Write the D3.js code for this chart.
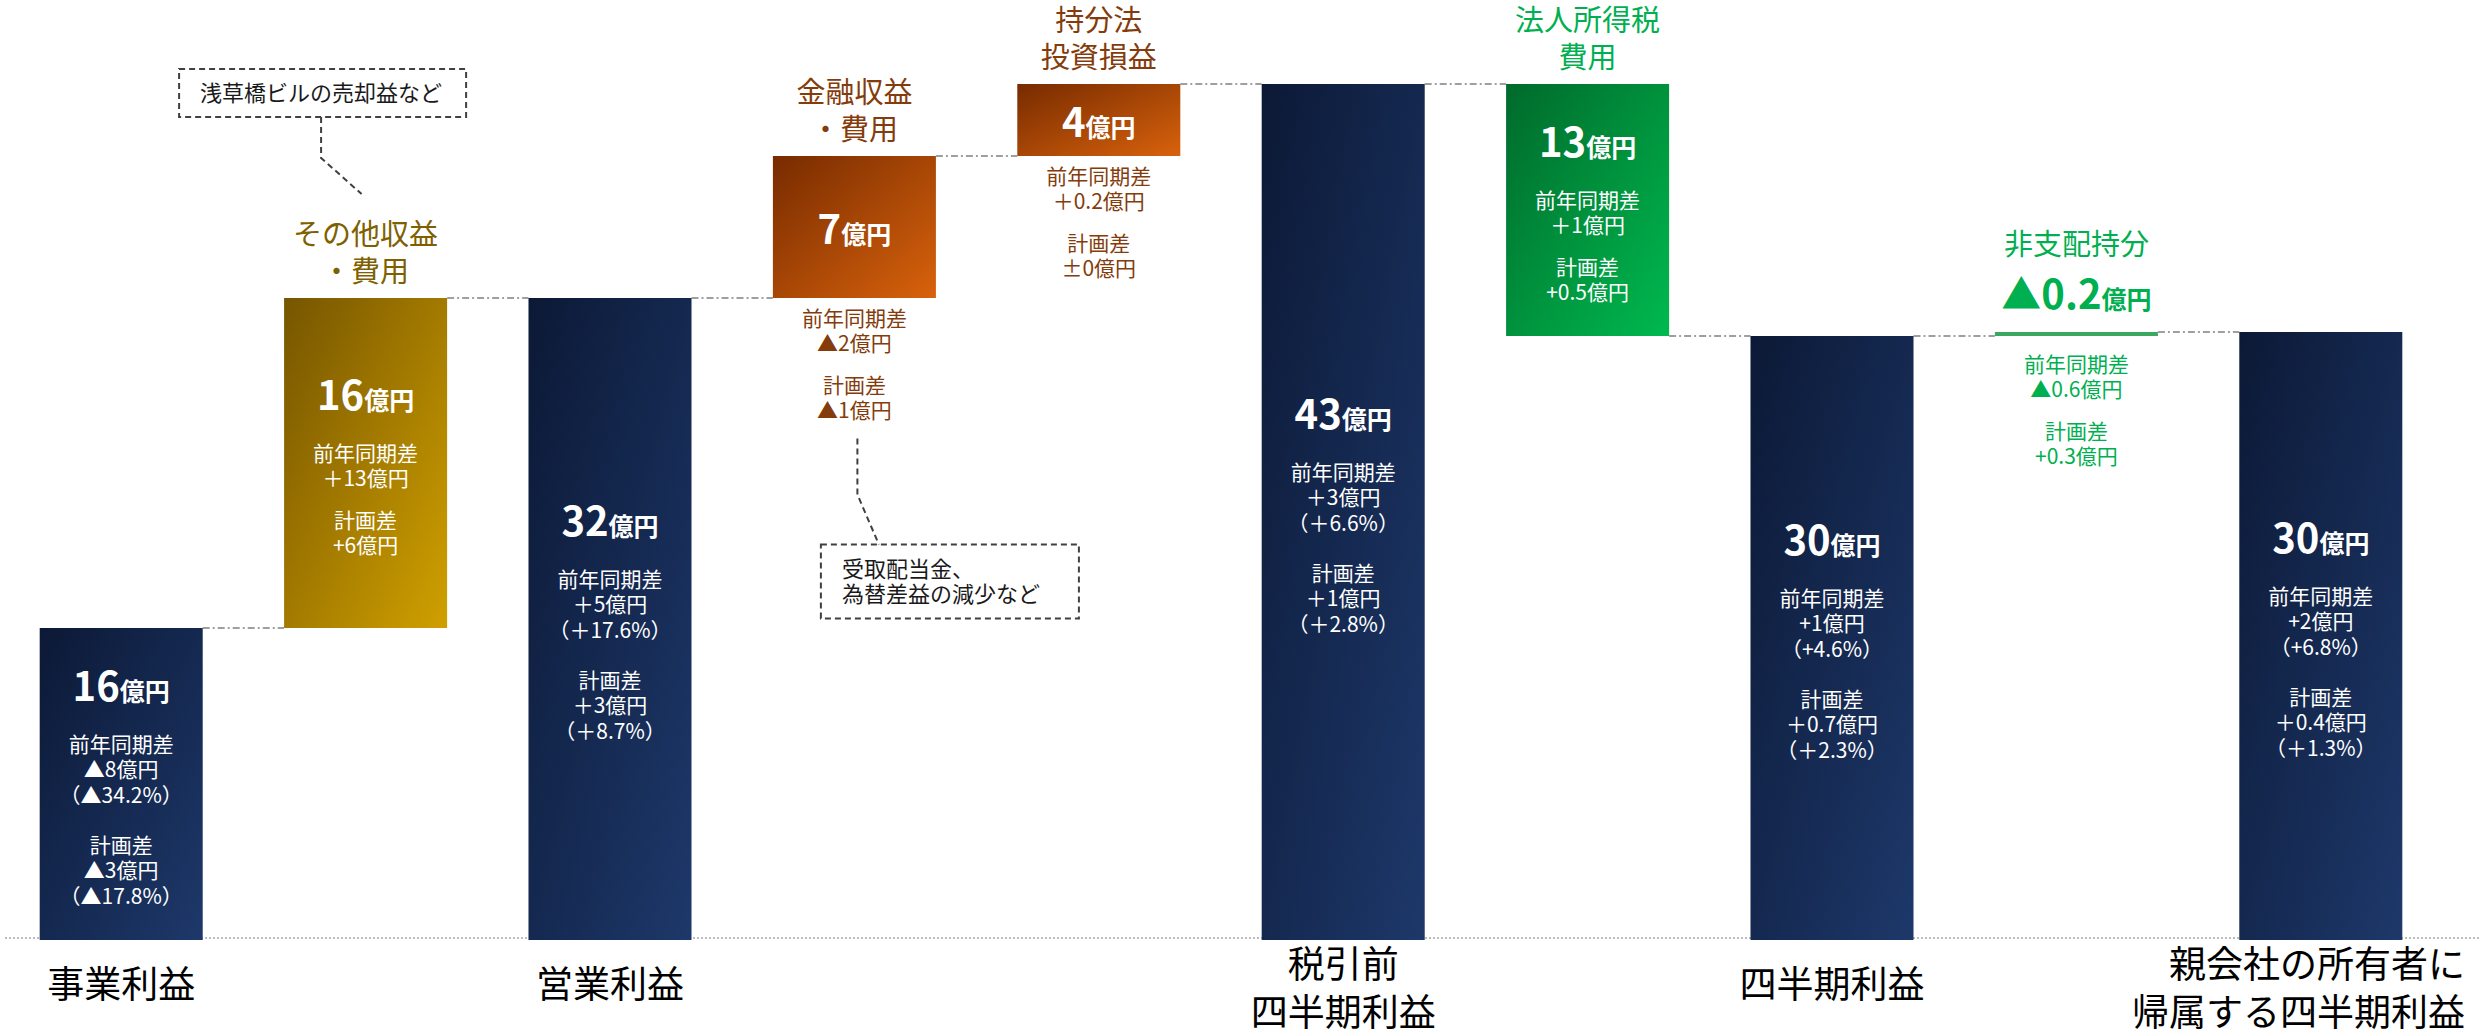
<!DOCTYPE html>
<html>
<head>
<meta charset="utf-8">
<script src="https://cdn.jsdelivr.net/npm/d3@7"></script>
<style>
  html, body { margin: 0; padding: 0; background: #fff; }
  svg { display: block; font-family: "Noto Sans CJK JP", "Noto Sans", sans-serif; }
</style>
</head>
<body>
<svg id="chart" width="2481" height="1036"></svg>
<script>
// ---- data ----
const categories = ['事業利益', 'その他収益・費用', '営業利益', '金融収益・費用', '持分法投資損益',
  '税引前四半期利益', '法人所得税費用', '四半期利益', '非支配持分', '親会社の所有者に帰属する四半期利益'];
const barTypes = ['total', 'delta', 'total', 'delta', 'delta', 'total', 'delta', 'total', 'delta', 'total'];
const barValues = [15.6, 16.5, 32.1, 7.1, 3.6, 42.8, -12.6, 30.2, 0.2, 30.4];
const barColors = ['navy', 'gold', 'navy', 'orange', 'orange', 'navy', 'green', 'navy', 'green', 'navy'];
const valueLabels = ['16', '16', '32', '7', '4', '43', '13', '30', '▲0.2', '30'];
const yoyDiff = [['▲8億円', '（▲34.2%）'], ['＋13億円'], ['＋5億円', '（＋17.6%）'], ['▲2億円'], ['＋0.2億円'],
  ['＋3億円', '（＋6.6%）'], ['＋1億円'], ['+1億円', '（+4.6%）'], ['▲0.6億円'], ['+2億円', '（+6.8%）']];
const planDiff = [['▲3億円', '（▲17.8%）'], ['+6億円'], ['＋3億円', '（＋8.7%）'], ['▲1億円'], ['±0億円'],
  ['＋1億円', '（＋2.8%）'], ['+0.5億円'], ['＋0.7億円', '（＋2.3%）'], ['+0.3億円'], ['＋0.4億円', '（＋1.3%）']];
const axisLabels = [['事業利益'], null, ['営業利益'], null, null, ['税引前', '四半期利益'], null, ['四半期利益'], null,
  ['親会社の所有者に', '帰属する四半期利益']];
const titleLabels = [null, ['その他収益', '・費用'], null, ['金融収益', '・費用'], ['持分法', '投資損益'], null,
  ['法人所得税', '費用'], null, ['非支配持分'], null];
const notes = [
  { bar: 1, lines: ['浅草橋ビルの売却益など'] },
  { bar: 3, lines: ['受取配当金、', '為替差益の減少など'] }
];

const palette = {
  navy: ['#0c1936', '#1d386a'],
  gold: ['#765500', '#d0a000'],
  orange: ['#772b00', '#d8620c'],
  green: ['#006a2b', '#00b94f']
};
const textColor = { navy: '#ffffff', gold: '#7f6000', orange: '#843c0c', green: '#00b050' };

// ---- layout ----
const W = 2481, H = 1036;
const svg = d3.select('#chart');

const x = d3.scaleBand()
  .domain(d3.range(categories.length))
  .range([-1, 2443])
  .paddingInner(0.333)
  .paddingOuter(0.1665);
const y = d3.scaleLinear().domain([0, 42.8]).range([940, 84]);
const bw = x.bandwidth();

// running totals for waterfall
let run = 0;
const segs = barValues.map((v, i) => {
  if (barTypes[i] === 'total') { run = v; return { lo: 0, hi: v, end: v }; }
  const s = run; run += v;
  return { lo: Math.min(s, run), hi: Math.max(s, run), end: run };
});

const defs = svg.append('defs');
Object.entries(palette).forEach(([k, c]) => {
  const lg = defs.append('linearGradient').attr('id', 'g-' + k)
    .attr('x1', 0).attr('y1', 0).attr('x2', 1).attr('y2', 1);
  lg.append('stop').attr('offset', 0).attr('stop-color', c[0]);
  lg.append('stop').attr('offset', 1).attr('stop-color', c[1]);
});

// baseline
svg.append('line')
  .attr('x1', 5).attr('x2', W).attr('y1', y(0) - 2).attr('y2', y(0) - 2)
  .attr('stroke', '#a6a6a6').attr('stroke-width', 1.5).attr('stroke-dasharray', '2,2');

// connectors
segs.slice(0, -1).forEach((s, i) => {
  svg.append('line')
    .attr('x1', x(i) + bw).attr('x2', x(i + 1))
    .attr('y1', y(s.end)).attr('y2', y(s.end))
    .attr('stroke', '#808080').attr('stroke-width', 1.5).attr('stroke-dasharray', '7,3,2,3');
});

// bars
svg.selectAll('rect.bar')
  .data(segs)
  .enter()
  .append('rect')
  .attr('class', 'bar')
  .attr('x', (d, i) => x(i))
  .attr('width', bw)
  .attr('y', d => y(d.hi))
  .attr('height', d => Math.max(4, y(d.lo) - y(d.hi)))
  .attr('fill', (d, i) => (y(d.lo) - y(d.hi) < 10) ? '#3aa85e' : `url(#g-${barColors[i]})`);

// ---- text helpers ----
function textLines(cx, ys, strs, size, color, weight) {
  strs.forEach((s, k) => {
    svg.append('text')
      .attr('x', cx).attr('y', ys[k]).attr('dy', '0.38em')
      .attr('text-anchor', 'middle')
      .attr('font-size', size)
      .attr('font-weight', weight || 'normal')
      .attr('fill', color)
      .text(s);
  });
}
function valueText(cx, cy, str, color) {
  const t = svg.append('text')
    .attr('x', cx).attr('y', cy + 14)
    .attr('text-anchor', 'middle')
    .attr('font-weight', 'bold')
    .attr('fill', color);
  t.append('tspan').attr('font-size', 40).text(str);
  t.append('tspan').attr('font-size', 25).text('億円');
}
function subOffsets(i) {
  const g1 = ['前年同期差'].concat(yoyDiff[i]);
  const g2 = ['計画差'].concat(planDiff[i]);
  const step = 25.5;
  const gap = g1.length > 2 ? 50 : 41.5;
  const offs = [];
  g1.forEach((s, k) => offs.push(k * step));
  const start2 = offs[offs.length - 1] + gap;
  g2.forEach((s, k) => offs.push(start2 + k * step));
  return { strs: g1.concat(g2), offs };
}

const stats = [];
segs.forEach((s, i) => {
  const cx = x(i) + bw / 2;
  const top = y(s.hi), bot = y(s.lo), h = bot - top;
  const col = barColors[i];
  const sub = subOffsets(i);
  let titleBottom = top - 27;

  if (h > 200) {
    // all text inside the bar, centred as a block
    const last = 57 + sub.offs[sub.offs.length - 1];
    const mid = (-15 + last + 10) / 2;
    const vc = (top + bot) / 2 + 5 - mid;
    valueText(cx, vc, valueLabels[i], '#fff');
    textLines(cx, sub.offs.map(o => vc + 57 + o), sub.strs, 21, '#fff');
  } else if (h > 40) {
    valueText(cx, (top + bot) / 2 + 3, valueLabels[i], '#fff');
    textLines(cx, sub.offs.map(o => bot + 20 + o), sub.strs, 21, textColor[col]);
    stats[i] = bot + 20 + sub.offs[sub.offs.length - 1];
  } else {
    valueText(cx, top - 37, valueLabels[i], textColor[col]);
    textLines(cx, sub.offs.map(o => bot + 28 + o), sub.strs, 21, textColor[col]);
    titleBottom = top - 88;
  }

  if (titleLabels[i]) {
    const n = titleLabels[i].length;
    textLines(cx, titleLabels[i].map((t, k) => titleBottom - (n - 1 - k) * 37),
      titleLabels[i], 29, textColor[col]);
  }

  if (axisLabels[i]) {
    const n = axisLabels[i].length;
    const ys = n === 1 ? [984] : [964, 1012];
    axisLabels[i].forEach((t, k) => {
      const el = svg.append('text')
        .attr('x', cx).attr('y', ys[k]).attr('dy', '0.38em')
        .attr('text-anchor', 'middle')
        .attr('font-size', 37)
        .attr('fill', '#000')
        .text(t);
      const w = el.node().getComputedTextLength();
      if (cx + w / 2 > W - 16) el.attr('x', W - 16).attr('text-anchor', 'end');
    });
  }
});

// ---- callouts ----
function calloutBox(x0, y0, x1, y1, lines) {
  svg.append('rect')
    .attr('x', x0).attr('y', y0).attr('width', x1 - x0).attr('height', y1 - y0)
    .attr('fill', '#fff').attr('stroke', '#404040').attr('stroke-width', 2)
    .attr('stroke-dasharray', '6,4');
  lines.forEach((t, k) => {
    svg.append('text')
      .attr('x', x0 + 21).attr('y', y0 + 24 + k * 25).attr('dy', '0.38em')
      .attr('font-size', 22).attr('fill', '#1a1a1a')
      .text(t);
  });
}
function leader(pts) {
  svg.append('path')
    .attr('d', d3.line()(pts))
    .attr('fill', 'none').attr('stroke', '#404040').attr('stroke-width', 2)
    .attr('stroke-dasharray', '6,4');
}

// 浅草橋ビル note above その他収益
{
  const i = notes[0].bar;
  const bx = x(i), cx = bx + bw / 2;
  const titleTop = y(segs[i].hi) - 27 - 37 - 20;
  const y1 = titleTop - 97, y0 = y1 - 48;
  calloutBox(bx - 105, y0, bx + bw + 19, y1, notes[0].lines);
  leader([[bx + 37, y1], [bx + 37, y1 + 41], [cx - 4, y1 + 77]]);
}
// 受取配当金 note below 金融収益
{
  const i = notes[1].bar;
  const bx = x(i), cx = bx + bw / 2;
  const from = stats[i] + 28;
  const y0 = from + 106;
  calloutBox(bx + 48, y0, bx + bw + 143, y0 + 74, notes[1].lines);
  leader([[cx + 3, from], [cx + 3, from + 56], [bx + 106, y0]]);
}
</script>
</body>
</html>
